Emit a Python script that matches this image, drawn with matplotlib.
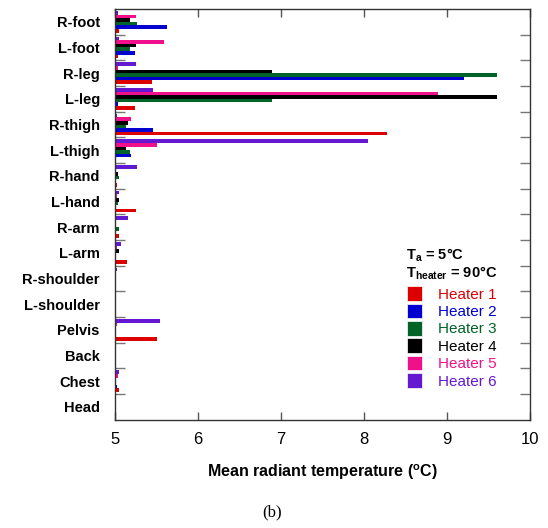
import matplotlib.pyplot as plt
import numpy as np
from matplotlib.patches import Patch
from matplotlib.ticker import FixedLocator

plt.rcParams['font.family'] = ['Liberation Sans', 'DejaVu Sans']
plt.rcParams['mathtext.fontset'] = 'custom'
plt.rcParams['mathtext.rm'] = 'Liberation Sans'
plt.rcParams['mathtext.bf'] = 'Liberation Sans:bold'

# body segments, listed from top of the chart to bottom
segments = ['R-foot', 'L-foot', 'R-leg', 'L-leg', 'R-thigh', 'L-thigh',
            'R-hand', 'L-hand', 'R-arm', 'L-arm', 'R-shoulder', 'L-shoulder',
            'Pelvis', 'Back', 'Chest', 'Head']

# mean radiant temperature (deg C) per segment for each heater position
heater1 = [5.05, 5.04, 5.44, 5.24, 8.28, 5.00, 5.02, 5.25, 5.05, 5.14, 5.00, 5.00, 5.51, 5.00, 5.05, 5.00]
heater2 = [5.62, 5.24, 9.21, 5.04, 5.46, 5.19, 5.00, 5.00, 5.00, 5.00, 5.00, 5.00, 5.01, 5.00, 5.02, 5.00]
heater3 = [5.27, 5.18, 9.60, 6.89, 5.13, 5.18, 5.05, 5.03, 5.05, 5.00, 5.00, 5.00, 5.00, 5.00, 5.00, 5.00]
heater4 = [5.18, 5.25, 6.89, 9.60, 5.16, 5.13, 5.03, 5.05, 5.00, 5.05, 5.00, 5.00, 5.00, 5.00, 5.00, 5.00]
heater5 = [5.25, 5.59, 5.04, 8.89, 5.19, 5.50, 5.01, 5.02, 5.00, 5.02, 5.00, 5.00, 5.02, 5.00, 5.03, 5.00]
heater6 = [5.04, 5.05, 5.25, 5.46, 5.02, 8.05, 5.27, 5.05, 5.15, 5.07, 5.02, 5.00, 5.54, 5.00, 5.05, 5.00]

series = [heater1, heater2, heater3, heater4, heater5, heater6]
labels = ['Heater 1', 'Heater 2', 'Heater 3', 'Heater 4', 'Heater 5', 'Heater 6']
colors = ['#dd0000', '#0000d0', '#006428', '#000000', '#f0108c', '#6418d2']

n = len(segments)
pos = np.arange(n)[::-1]          # top segment gets the highest y
h = 0.14

fig = plt.figure(figsize=(5.48, 5.28), dpi=100)
ax = fig.add_axes([0.210, 0.205, 0.757, 0.778])

for k, vals in enumerate(series):
    ax.barh(pos + (k - 2.5) * h, vals, height=h, color=colors[k], left=0)

ax.set_xlim(5, 10)
ax.set_ylim(-0.5, n - 0.5)

# segment names at the group centres, short inward ticks between groups
ax.set_yticks(pos)
ax.set_yticklabels(segments, fontsize=10.5, fontweight='bold')
ax.tick_params(axis='y', which='major', length=0, pad=11)
ax.yaxis.set_minor_locator(FixedLocator(np.arange(-0.5, n, 1.0)[1:-1]))
ax.tick_params(axis='y', which='minor', direction='in', length=7, width=1,
               color='#777777', left=True, right=True)

ax.set_xticks([5, 6, 7, 8, 9, 10])
ax.tick_params(axis='x', direction='in', length=6, width=1, color='#555555',
               top=True, bottom=True, labelsize=12, pad=9)

for s in ax.spines.values():
    s.set_color('#333333')
    s.set_linewidth(1)

ax.set_xlabel(r'Mean radiant temperature ($^{\mathbf{o}}$C)', fontsize=11.5,
              fontweight='bold', labelpad=11)

# conditions and heater legend
fig.text(0.741, 0.516, r'T$_{\mathbf{a}}$ = 5°C', fontsize=10.5, fontweight='bold',
         va='center', ha='left')
fig.text(0.741, 0.483, r'T$_{\mathbf{heater}}$ = 90°C', fontsize=10.5, fontweight='bold',
         va='center', ha='left')

handles = [Patch(facecolor=c, edgecolor='white', linewidth=0.5) for c in colors]
ax.legend(handles, labels, loc='upper left', bbox_to_anchor=(0.742, 0.458),
          bbox_transform=fig.transFigure, frameon=False, fontsize=11,
          handlelength=1.0, handleheight=1.1, labelspacing=0.12,
          handletextpad=1.05, borderpad=0, borderaxespad=0, labelcolor=colors)

fig.text(0.497, 0.030, '(b)', fontsize=12, family=['Liberation Serif'],
         ha='center', va='center')

fig.savefig('out.png', dpi=100)
